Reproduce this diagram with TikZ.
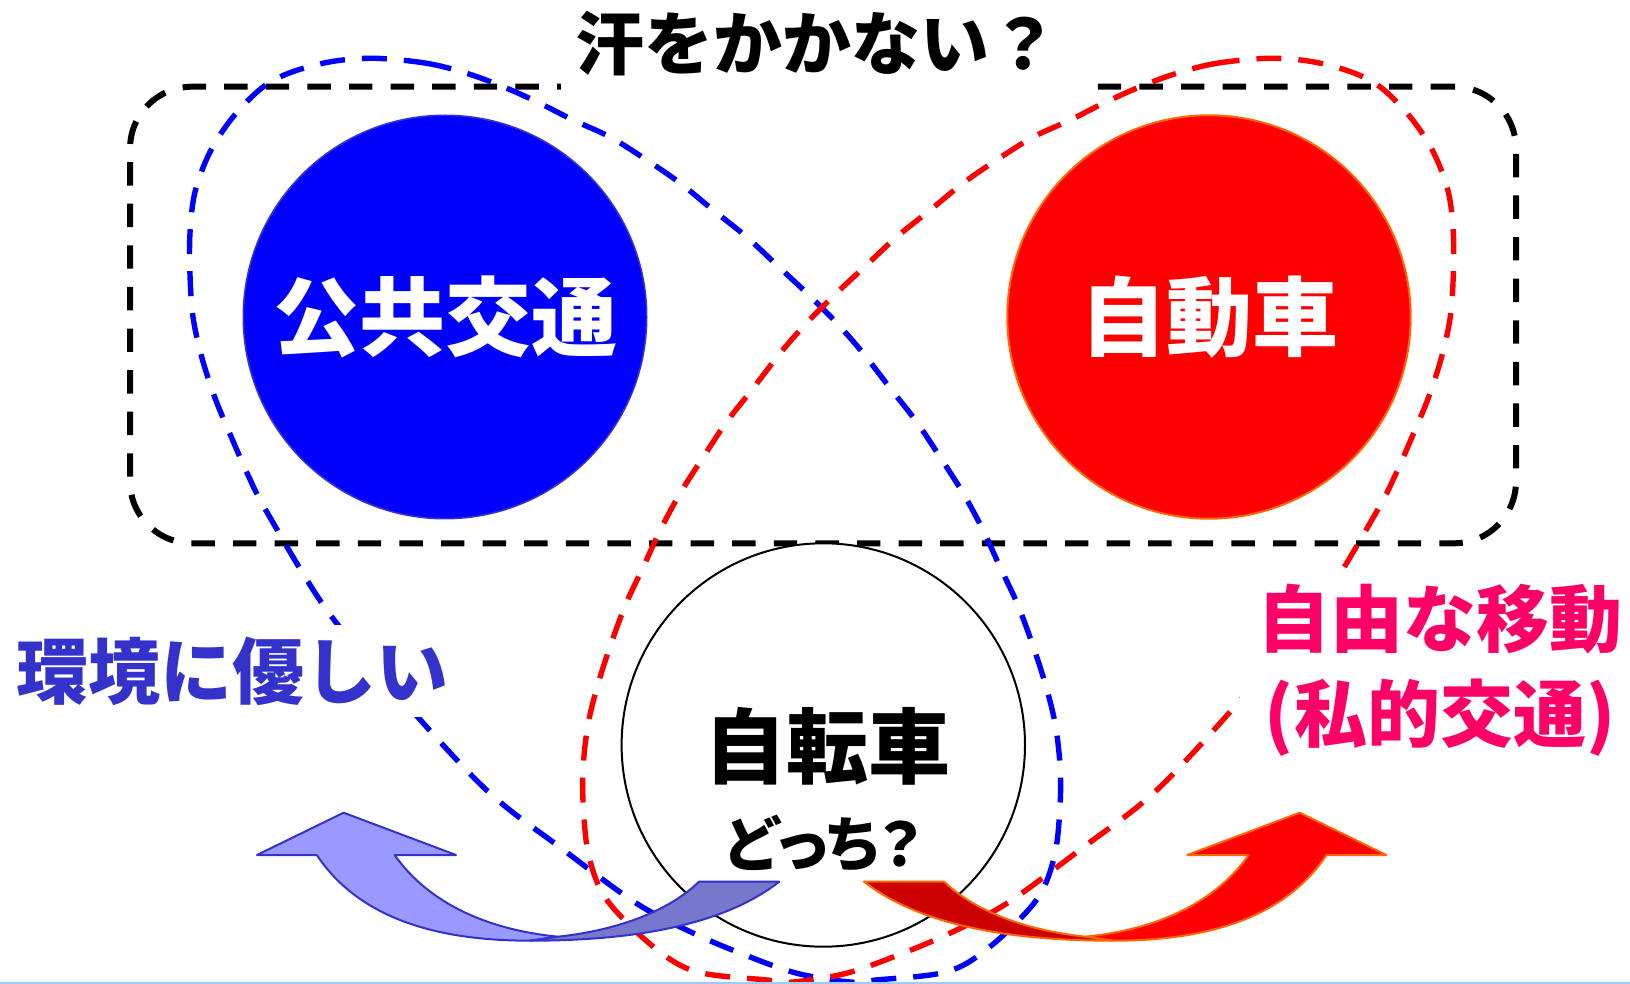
\documentclass[tikz,border=0pt]{standalone}
\usepackage{fontspec}
\setmainfont{Noto Sans CJK JP}
\newfontfamily\jpp{Noto Sans CJK JP}[RawFeature=+palt]
\definecolor{pubblue}{HTML}{0000FF}
\definecolor{pubedge}{HTML}{3333CC}
\definecolor{carred}{HTML}{FF0000}
\definecolor{caredge}{HTML}{FF6600}
\definecolor{envblue}{HTML}{3333CC}
\definecolor{freepink}{HTML}{FF0066}
\definecolor{lightarrow}{HTML}{9999FF}
\definecolor{darkarrow}{HTML}{7777CC}
\definecolor{darkred}{HTML}{CC0000}
\definecolor{edgeline}{HTML}{99CCFF}
\newcommand\curvedarrow[3]{%
  \filldraw[fill=#1, draw=#3, line width=1pt, line join=round]
    (257,855) -- (343.6,812.7) -- (456,855) -- (394.6,855)
    .. controls (430,905) and (490,930) .. (558,936.7) -- (530,940.7)
    .. controls (440,940.7) and (360,920) .. (316.8,855) -- cycle;
  \filldraw[fill=#2, draw=#3, line width=1pt, line join=round]
    (558,936.7) .. controls (620,930) and (670,910) .. (699,881.7) -- (779.3,881.7)
    .. controls (730,920) and (650,940.7) .. (530,940.7) -- cycle;}
\newcommand\looppoints{(375,58.3) (426.7,63.3) (466.7,73.3) (503,86.7) (536.7,101.7) (573,120) (610,137) (646.7,160) (680,183) (713,210) (746.7,237) (776.7,265) (806.7,293) (836.7,323) (863,353) (890,388) (916.7,422) (940,457) (963,493) (983,530) (1000,567) (1017,603) (1032,643) (1045,683) (1055,723) (1060,765) (1060,807) (1054.3,856.7) (1036.4,900) (990,946.7) (947,971.7) (876,980) (850,982) (797,973.3) (745,955) (693.6,933.3) (636.4,903.3) (561,848) (486.4,790) (400,697) (326.7,610) (266.7,511.7) (248,475) (231.7,438) (215,398) (201.7,357) (193,317) (190,275) (190,233) (195,192) (210,152) (233,117) (263,87) (292,72) (332,61.5)}
\begin{document}
\begin{tikzpicture}[x=0.5pt,y=-0.5pt,
  loopline/.style={line width=2.7pt, dash pattern=on 12.5pt off 8.5pt},
  bigcircle/.style={circle, minimum size=201.7pt, inner sep=0pt},
  bigtext/.style={font=\bfseries\fontsize{43pt}{50pt}\selectfont}]
\useasboundingbox (0,0) rectangle (1630,984);
\fill[white] (0,0) rectangle (1630,984);
% frame
\node[draw=black, line width=3pt, dash pattern=on 11.7pt off 9.1pt, rounded corners=31pt,
      minimum width=693pt, minimum height=228.3pt, inner sep=0pt] (frame) at (823,315) {};
% circles
\node[bigcircle, fill=pubblue, draw=pubedge, line width=0.8pt, text=white, bigtext] (pub) at (445,317) {公共交通};
\node[bigcircle, fill=carred, draw=caredge, line width=1pt, text=white, bigtext] (car) at (1209,317) {自動車};
\node[bigcircle, fill=white, draw=black, line width=1pt] (bike) at (823.3,745) {};
\node[font=\bfseries\fontsize{41pt}{48pt}\selectfont] (bikelabel) at (827,746) {自転車};
\node[font=\jpp\bfseries\fontsize{30pt}{36pt}\selectfont] (which) at (823,844) {どっち？};
% dashed loops
\draw[loopline, draw=blue] plot[smooth cycle, tension=0.55] coordinates {\looppoints};
\begin{scope}[shift={(1643.3,0)}, xscale=-1]
\draw[loopline, draw=red] plot[smooth cycle, tension=0.55] coordinates {\looppoints};
\end{scope}
% title
\fill[white] (561,-5) rectangle (1081,97);
\node[font=\bfseries\fontsize{34.5pt}{40pt}\selectfont] (title) at (817,44) {汗をかかない？};
% side labels
\node[fill=white, text=envblue, inner sep=6pt, font=\bfseries\fontsize{36pt}{42pt}\selectfont] (eco) at (233,671) {環境に優しい};
\node[fill=white, text=freepink, align=center, inner xsep=9pt, inner ysep=8pt,
      font=\bfseries\fontsize{36.5pt}{47.5pt}\selectfont] (free) at (1440,670) {自由な移動\\(私的交通)};
% arrows
\curvedarrow{lightarrow}{darkarrow}{pubedge}
\begin{scope}[shift={(1643.3,0)}, xscale=-1]
\curvedarrow{carred}{darkred}{caredge}
\end{scope}
% bottom edge line
\draw[edgeline, line width=1pt] (0,982.7) -- (1630,982.7);
\end{tikzpicture}
\end{document}
